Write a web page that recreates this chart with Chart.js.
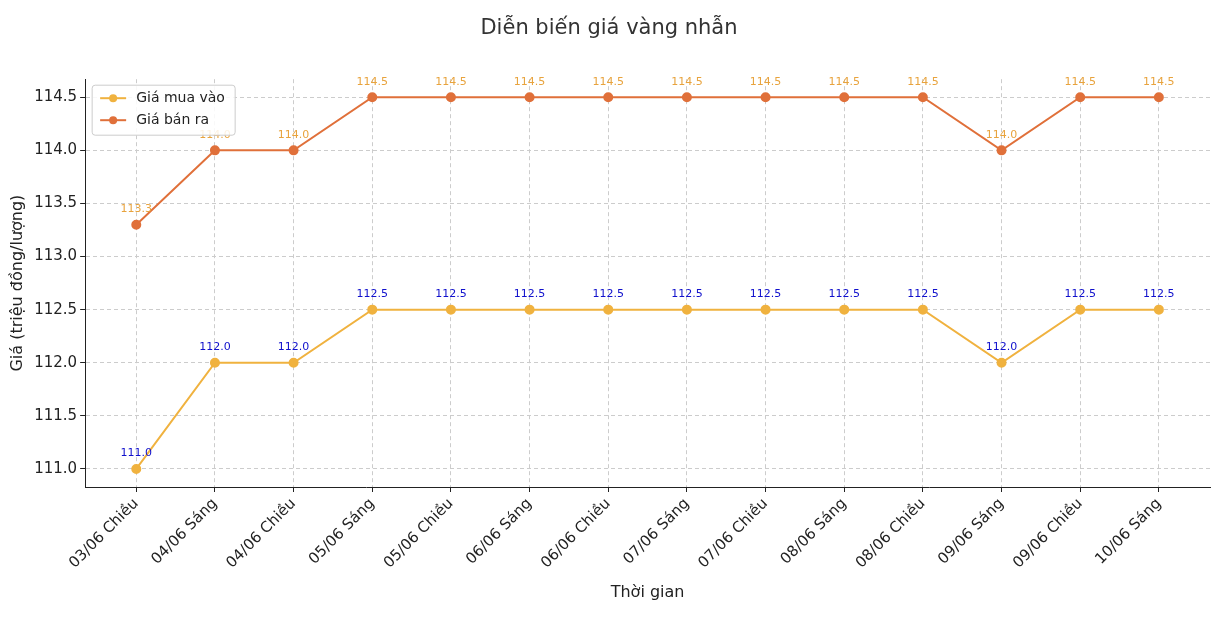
<!DOCTYPE html>
<html><head><meta charset="utf-8">
<script src="https://cdn.jsdelivr.net/npm/chart.js@4/dist/chart.umd.min.js"></script>
<style>body{margin:0;background:#fff}#wrap{width:1216px;height:618px}</style>
</head><body><div id="wrap"><canvas id="c"></canvas></div>
<script>
const labels = ['03/06 Chiều','04/06 Sáng','04/06 Chiều','05/06 Sáng','05/06 Chiều','06/06 Sáng','06/06 Chiều','07/06 Sáng','07/06 Chiều','08/06 Sáng','08/06 Chiều','09/06 Sáng','09/06 Chiều','10/06 Sáng'];
const buyPrices = [111.0,112.0,112.0,112.5,112.5,112.5,112.5,112.5,112.5,112.5,112.5,112.0,112.5,112.5];
const sellPrices = [113.3,114.0,114.0,114.5,114.5,114.5,114.5,114.5,114.5,114.5,114.5,114.0,114.5,114.5];

Chart.defaults.font.family = 'DejaVu Sans';
Chart.defaults.color = '#222';

const toPoints = arr => arr.map((v, i) => ({x: i, y: v}));

// value labels above every point
const pointLabels = {
  id: 'pointLabels',
  afterDatasetsDraw(chart) {
    const ctx = chart.ctx;
    ctx.save();
    ctx.font = '11px DejaVu Sans';
    ctx.textAlign = 'center';
    ctx.textBaseline = 'bottom';
    chart.data.datasets.forEach((ds, i) => {
      ctx.fillStyle = i === 0 ? '#1010cc' : '#e8a33d';
      chart.getDatasetMeta(i).data.forEach((pt, j) => {
        ctx.fillText(ds.data[j].y.toFixed(1), pt.x, pt.y - 10);
      });
    });
    ctx.restore();
  }
};

// matplotlib-like legend inside the plot
const boxLegend = {
  id: 'boxLegend',
  afterDraw(chart) {
    const ctx = chart.ctx, a = chart.chartArea;
    const x = a.left + 7, y = a.top + 6;
    ctx.save();
    ctx.fillStyle = 'rgba(255,255,255,0.85)';
    ctx.strokeStyle = '#ccc';
    ctx.lineWidth = 1;
    ctx.beginPath();
    ctx.roundRect(x, y, 143, 50, 3);
    ctx.fill(); ctx.stroke();
    ctx.font = '14px DejaVu Sans';
    ctx.textBaseline = 'middle';
    chart.data.datasets.forEach((ds, i) => {
      const ly = y + 13 + i * 22;
      ctx.strokeStyle = ds.borderColor;
      ctx.lineWidth = 2;
      ctx.beginPath(); ctx.moveTo(x + 8, ly); ctx.lineTo(x + 34, ly); ctx.stroke();
      ctx.fillStyle = ds.borderColor;
      ctx.beginPath(); ctx.arc(x + 21, ly, 4, 0, Math.PI * 2); ctx.fill();
      ctx.fillStyle = '#222';
      ctx.fillText(ds.label, x + 44, ly);
    });
    ctx.restore();
  }
};

new Chart(document.getElementById('c'), {
  type: 'line',
  data: {
    datasets: [
      {label: 'Giá mua vào', data: toPoints(buyPrices), borderColor: '#f0b23f', backgroundColor: '#f0b23f',
       borderWidth: 2, pointRadius: 4, pointHoverRadius: 4, tension: 0},
      {label: 'Giá bán ra', data: toPoints(sellPrices), borderColor: '#e0703a', backgroundColor: '#e0703a',
       borderWidth: 2, pointRadius: 4, pointHoverRadius: 4, tension: 0}
    ]
  },
  options: {
    responsive: true,
    maintainAspectRatio: false,
    animation: false,
    layout: {padding: {left: 4, right: 2, top: 0, bottom: 12}},
    plugins: {
      legend: {display: false},
      tooltip: {enabled: false},
      title: {display: true, text: 'Diễn biến giá vàng nhẫn', font: {size: 21, weight: 'normal'},
              color: '#333', padding: {top: 16, bottom: 38}}
    },
    scales: {
      x: {
        type: 'linear',
        min: -0.65, max: labels.length - 1 + 0.65,
        afterBuildTicks(axis) { axis.ticks = labels.map((_, i) => ({value: i})); },
        afterFit(axis) { axis.height = 119; },
        grid: {color: '#ccc', tickLength: 5, tickColor: '#222'},
        border: {color: '#222', dash: [4, 3]},
        ticks: {font: {size: 15}, minRotation: 45, maxRotation: 45, color: '#222',
                autoSkip: false, callback: v => labels[v]},
        title: {display: true, text: 'Thời gian', font: {size: 16}, padding: {top: 0}}
      },
      y: {
        min: 110.83, max: 114.67,
        grid: {color: '#ccc', tickLength: 5, tickColor: '#222'},
        border: {color: '#222', dash: [4, 3]},
        afterBuildTicks(axis) {
          const t = [];
          for (let v = 111; v <= 114.5; v += 0.5) t.push({value: v});
          axis.ticks = t;
        },
        ticks: {font: {size: 15}, color: '#222', callback: v => Number(v).toFixed(1)},
        title: {display: true, text: 'Giá (triệu đồng/lượng)', font: {size: 16}}
      }
    }
  },
  plugins: [pointLabels, boxLegend]
});
</script></body></html>
